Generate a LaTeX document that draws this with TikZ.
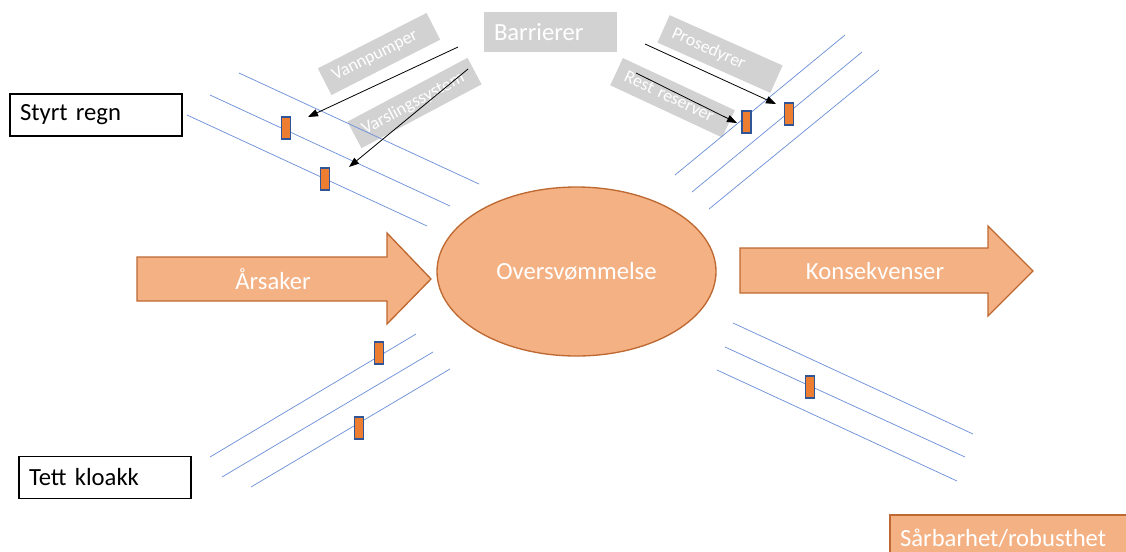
\documentclass[tikz,border=0pt]{standalone}
\usepackage{fontspec}
\setmainfont{Carlito}
\usetikzlibrary{arrows.meta,shapes.geometric}
\pgfdeclarelayer{labellayer}
\pgfdeclarelayer{edgelayer}
\pgfdeclarelayer{nodelayer}
\pgfsetlayers{labellayer,edgelayer,nodelayer,main}
\definecolor{peach}{HTML}{F4B183}
\definecolor{peachline}{RGB}{190,105,50}
\definecolor{barrierfill}{HTML}{ED7D31}
\definecolor{barrierline}{HTML}{2F5597}
\definecolor{pathblue}{RGB}{110,145,215}
\definecolor{labelgray}{RGB}{210,210,210}
\tikzstyle{none}=[fill=none, draw=none, shape=circle, inner sep=0pt, minimum size=0pt]
\tikzstyle{cause box}=[fill=white, draw=black, line width=1pt, shape=rectangle, align=left, inner xsep=7.5pt, minimum height=31.5pt, font=\fontsize{18.5}{22}\selectfont]
\tikzstyle{heading box}=[fill=labelgray, draw=none, shape=rectangle, align=left, inner xsep=7.5pt, minimum height=30pt, text=white, font=\fontsize{18.5}{22}\selectfont]
\tikzstyle{result box}=[fill=peach, draw=peachline, line width=1pt, shape=rectangle, align=left, inner xsep=7.5pt, minimum height=34.5pt, text=white, font=\fontsize{18.5}{22}\selectfont]
\tikzstyle{barrier label}=[fill=labelgray, draw=none, shape=rectangle, align=left, inner xsep=7.5pt, minimum height=22.5pt, text=white, font=\fontsize{13.3}{15}\selectfont]
\tikzstyle{event}=[fill=peach, draw=peachline, line width=1pt, shape=ellipse, inner sep=0pt, minimum width=209.25pt, minimum height=126.75pt, text=white, font=\fontsize{18.5}{22}\selectfont]
\tikzstyle{arrow text}=[fill=none, draw=none, text=white, font=\fontsize{18.5}{22}\selectfont]
\tikzstyle{barrier}=[fill=barrierfill, draw=barrierline, line width=1pt, shape=rectangle, inner sep=0pt, minimum width=6.75pt, minimum height=16.5pt]
\tikzstyle{big arrow}=[fill=peach, draw=peachline, line width=1pt, line join=miter]
\tikzstyle{path line}=[draw=pathblue, line width=0.55pt]
\tikzstyle{barrier arrow}=[draw=black, line width=0.6pt, -{Triangle[length=7.5pt, width=5.5pt]}]

\begin{document}
\begin{tikzpicture}[x=0.75pt, y=-0.75pt]
	\useasboundingbox (0, 0) rectangle (1126, 551);
	\begin{pgfonlayer}{labellayer}
		\node [style=barrier label, text width=76.5pt, rotate=27] (0) at (379, 54) {Vannpumper};
		\node [style=barrier label, text width=87pt, rotate=28] (1) at (414.5, 103) {Varslingssystem};
		\node [style=barrier label, text width=77.7pt, rotate=-24] (2) at (720, 54) {Prosedyrer};
		\node [style=barrier label, text width=77.6pt, rotate=-25] (3) at (672.5, 97.75) {Rest reserver};
	\end{pgfonlayer}
	\begin{pgfonlayer}{nodelayer}
		\node [style=cause box, text width=114pt] (4) at (96, 115) {Styrt regn};
		\node [style=cause box, text width=114pt] (5) at (105, 477.5) {Tett kloakk};
		\node [style=heading box, text width=84.75pt] (6) at (550.5, 32) {Barrierer};
		\node [style=event] (7) at (576.5, 271.5) {Oversvømmelse};
		\node [style=arrow text] (8) at (273, 279) {Årsaker};
		\node [style=arrow text] (9) at (875, 271) {Konsekvenser};
		\node [style=result box, text width=172.5pt] (10) at (1015, 538) {Sårbarhet/robusthet};
		\node [style=barrier] (11) at (286, 128) {};
		\node [style=barrier] (12) at (325, 179) {};
		\node [style=barrier] (13) at (746.5, 122) {};
		\node [style=barrier] (14) at (789, 114) {};
		\node [style=barrier] (15) at (379, 353) {};
		\node [style=barrier] (16) at (359, 428) {};
		\node [style=barrier] (17) at (810, 387) {};
		\node [style=none] (18) at (239, 73) {};
		\node [style=none] (19) at (479, 184) {};
		\node [style=none] (20) at (210, 95) {};
		\node [style=none] (21) at (450, 206) {};
		\node [style=none] (22) at (187, 115) {};
		\node [style=none] (23) at (427, 226) {};
		\node [style=none] (24) at (675, 175) {};
		\node [style=none] (25) at (845, 35) {};
		\node [style=none] (26) at (692, 192) {};
		\node [style=none] (27) at (862, 52) {};
		\node [style=none] (28) at (709, 209) {};
		\node [style=none] (29) at (879, 70) {};
		\node [style=none] (30) at (210, 457) {};
		\node [style=none] (31) at (416, 334) {};
		\node [style=none] (32) at (222, 477) {};
		\node [style=none] (33) at (433, 352) {};
		\node [style=none] (34) at (251, 487) {};
		\node [style=none] (35) at (450, 369) {};
		\node [style=none] (36) at (733, 323) {};
		\node [style=none] (37) at (973, 434) {};
		\node [style=none] (38) at (725, 347) {};
		\node [style=none] (39) at (965, 457) {};
		\node [style=none] (40) at (717, 370) {};
		\node [style=none] (41) at (957, 481) {};
		\node [style=none] (42) at (458, 47) {};
		\node [style=none] (43) at (308, 117) {};
		\node [style=none] (44) at (468, 69) {};
		\node [style=none] (45) at (349, 167) {};
		\node [style=none] (46) at (645, 44) {};
		\node [style=none] (47) at (776, 104) {};
		\node [style=none] (48) at (636, 73) {};
		\node [style=none] (49) at (737, 123) {};
	\end{pgfonlayer}
	\begin{pgfonlayer}{edgelayer}
		\draw [style=big arrow] (137, 257) -- (387, 257) -- (387, 233) -- (431, 279) -- (387, 324) -- (387, 301) -- (137, 301) -- cycle;
		\draw [style=big arrow] (740, 248) -- (988, 248) -- (988, 226) -- (1033, 271) -- (988, 316) -- (988, 293) -- (740, 293) -- cycle;
		\draw [style=path line] (18.center) to (19.center);
		\draw [style=path line] (20.center) to (21.center);
		\draw [style=path line] (22.center) to (23.center);
		\draw [style=path line] (24.center) to (25.center);
		\draw [style=path line] (26.center) to (27.center);
		\draw [style=path line] (28.center) to (29.center);
		\draw [style=path line] (30.center) to (31.center);
		\draw [style=path line] (32.center) to (33.center);
		\draw [style=path line] (34.center) to (35.center);
		\draw [style=path line] (36.center) to (37.center);
		\draw [style=path line] (38.center) to (39.center);
		\draw [style=path line] (40.center) to (41.center);
		\draw [style=barrier arrow] (42.center) to (43.center);
		\draw [style=barrier arrow] (44.center) to (45.center);
		\draw [style=barrier arrow] (46.center) to (47.center);
		\draw [style=barrier arrow] (48.center) to (49.center);
	\end{pgfonlayer}
\end{tikzpicture}
\end{document}
